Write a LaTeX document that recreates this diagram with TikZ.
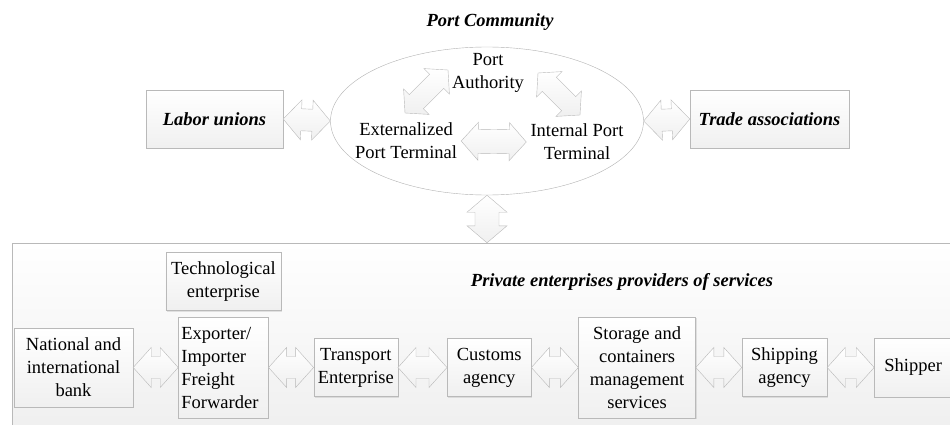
\documentclass[tikz,border=0pt]{standalone}
\usepackage{fontspec}
\setmainfont{LiberationSerif}[Extension=.ttf,
  UprightFont=*-Regular,BoldFont=*-Bold,
  ItalicFont=*-Italic,BoldItalicFont=*-BoldItalic]
\usepackage{tikz}
\usetikzlibrary{positioning,calc,shapes.geometric,shadows}
\tikzstyle{every node}=[font=\rmfamily\fontsize{18.5}{23}\selectfont]
\tikzstyle{actor}=[rectangle,
                   draw=gray!55,
                   top color=white,
                   bottom color=gray!12,
                   inner sep=0pt,
                   align=center,
                   drop shadow={shadow xshift=1pt,shadow yshift=-1pt,opacity=.2}]
\tikzstyle{heading}=[font=\rmfamily\fontsize{18.5}{23}\selectfont\bfseries\itshape]
\tikzstyle{twoway}=[draw=gray!55,
                    line join=miter,
                    top color=white,
                    bottom color=gray!12]
% double block arrow: from, to, head length, head half width, shaft half width
\newcommand{\twoway}[5]{%
  \coordinate (tw-a) at ($(#1)!#3!(#2)$);
  \coordinate (tw-b) at ($(#2)!#3!(#1)$);
  \draw[twoway] (#1) -- ($(tw-a)!#4!90:(#2)$) -- ($(tw-a)!#5!90:(#2)$)
    -- ($(tw-b)!#5!-90:(#1)$) -- ($(tw-b)!#4!-90:(#1)$) -- (#2)
    -- ($(tw-b)!#4!90:(#1)$) -- ($(tw-b)!#5!90:(#1)$)
    -- ($(tw-a)!#5!-90:(#2)$) -- ($(tw-a)!#4!-90:(#2)$) -- cycle;
}

\begin{document}
\begin{tikzpicture}[x=1pt,y=-1pt]
\useasboundingbox (0,0) rectangle (950,425);
% port community
\node (title) [heading] at (490,22) {Port Community};
\node (comm) [ellipse,draw=gray!60,fill=white,minimum width=313pt,minimum height=148pt] at (487,121) {};
\node (auth) [align=center,inner sep=4pt] at (488,73) {Port\\Authority};
\node (ext) [align=center,inner sep=4pt] at (406,141) {Externalized\\Port Terminal};
\node (int) [align=center,inner sep=4pt] at (577,142) {Internal Port\\Terminal};
\node (labor) [actor,heading,minimum width=137pt,minimum height=58pt] at (214.5,119) {Labor unions};
\node (trade) [actor,heading,minimum width=159pt,minimum height=58pt] at (769.5,119) {Trade associations};
\coordinate (auth-l) at (448,70);
\coordinate (ext-t) at (405,113);
\coordinate (auth-r) at (538,73);
\coordinate (int-t) at (580,115);
\twoway{ext-t}{auth-l}{16pt}{18pt}{10pt}
\twoway{auth-r}{int-t}{16pt}{18pt}{10pt}
\twoway{ext.east}{int.west}{17pt}{19pt}{12pt}
\twoway{labor.east}{comm.west}{18pt}{20pt}{11pt}
\twoway{comm.east}{trade.west}{18pt}{20pt}{11pt}
% private enterprises
\node (private) [rectangle,draw=gray!55,top color=white,bottom color=gray!13,minimum width=948pt,minimum height=197pt] at (486,341.5) {};
\coordinate (gate) at (comm.south |- private.north);
\twoway{comm.south}{gate}{17pt}{20pt}{12pt}
\node (ptitle) [heading] at (622,282) {Private enterprises providers of services};
\node (bank) [actor,minimum width=119pt,minimum height=79pt] at (73.5,367.5) {National and\\international\\bank};
\node (exporter) [actor,right=45pt of bank,minimum width=90pt,minimum height=101pt,text width=84pt,align=left] {Exporter/\\Importer\\Freight\\Forwarder};
\node (tech) [actor,above=6pt of exporter,minimum width=115pt,minimum height=58pt] {Technological\\enterprise};
\node (transport) [actor,right=45pt of exporter,minimum width=84pt,minimum height=58pt] {Transport\\Enterprise};
\node (customs) [actor,right=49pt of transport,minimum width=84pt,minimum height=58pt] {Customs\\agency};
\node (storage) [actor,right=47pt of customs,minimum width=117pt,minimum height=101pt] {Storage and\\containers\\management\\services};
\node (shipping) [actor,right=46pt of storage,minimum width=85pt,minimum height=58pt] {Shipping\\agency};
\node (shipper) [actor,right=47pt of shipping,minimum width=88pt,minimum height=59pt,text width=80pt,align=left] {\hspace*{6pt}Shipper};
\twoway{bank.east}{exporter.west}{18pt}{20pt}{11pt}
\twoway{exporter.east}{transport.west}{18pt}{20pt}{11pt}
\twoway{transport.east}{customs.west}{18pt}{20pt}{11pt}
\twoway{customs.east}{storage.west}{18pt}{20pt}{11pt}
\twoway{storage.east}{shipping.west}{18pt}{20pt}{11pt}
\twoway{shipping.east}{shipper.west}{18pt}{20pt}{11pt}
\end{tikzpicture}
\end{document}
